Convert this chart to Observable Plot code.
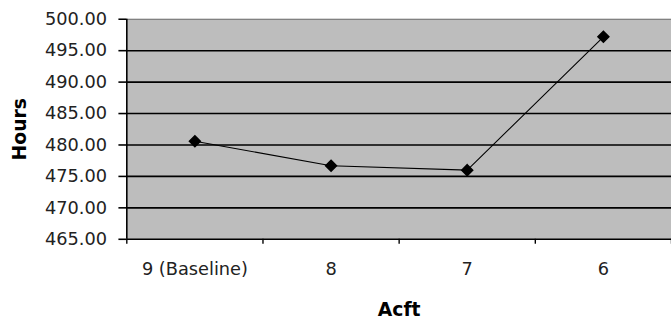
<!DOCTYPE html>
<html>
<head>
<meta charset="utf-8">
<script src="https://cdn.jsdelivr.net/npm/d3@7"></script>
<script src="https://cdn.jsdelivr.net/npm/@observablehq/plot@0.6"></script>
<style>
  html, body { margin: 0; padding: 0; background: #fff; overflow: hidden; }
  #chart { width: 671px; height: 325px; overflow: hidden; }
</style>
</head>
<body>
<div id="chart"></div>
<script>
const categories = ["9 (Baseline)", "8", "7", "6"];
const hours = [480.6, 476.7, 476.0, 497.2];
const yTicks = [465, 470, 475, 480, 485, 490, 495, 500];

const data = categories.map((c, i) => ({cat: c, pos: i + 0.5, hours: hours[i]}));
const catTicks = categories.map((c, i) => i + 0.5);
const boundaryTicks = d3.range(categories.length + 1);

const chart = Plot.plot({
  width: 680,
  height: 325,
  marginLeft: 128,
  marginRight: 0,
  marginTop: 19,
  marginBottom: 83,
  style: {fontFamily: "DejaVu Sans, Verdana, sans-serif", fontSize: "18px", color: "#222", background: "transparent", overflow: "visible"},
  x: {domain: [0, categories.length], type: "linear"},
  y: {domain: [465, 500]},
  marks: [
    Plot.frame({fill: "#bdbdbd", stroke: null}),
    Plot.ruleY(yTicks.filter(t => t > 465 && t < 500), {stroke: "#000", strokeWidth: 1.6}),
    Plot.ruleY([500], {stroke: "#666", strokeWidth: 1}),
    Plot.ruleY([465], {stroke: "#000", strokeWidth: 1.6}),
    Plot.ruleX([0], {stroke: "#000", strokeWidth: 1.6}),
    Plot.axisY({ticks: yTicks, tickFormat: d3.format(".2f"), tickSize: 8, tickPadding: 12, stroke: "#000", strokeWidth: 1.6,
      label: "Hours", labelAnchor: "center", labelArrow: "none", labelOffset: 116, fontSize: 18}),
    Plot.axisX({ticks: boundaryTicks, tickFormat: () => "", tickSize: 5, stroke: "#000", strokeWidth: 1.4, label: null}),
    Plot.axisX({ticks: catTicks, tickFormat: (d) => categories[Math.floor(d)], tickSize: 0, tickPadding: 23, fontSize: 18,
      label: "Acft", labelAnchor: "center", labelArrow: "none", labelOffset: 78}),
    Plot.line(data, {x: "pos", y: "hours", stroke: "#000", strokeWidth: 1.1}),
    Plot.dot(data, {x: "pos", y: "hours", symbol: "diamond2", r: 5, fill: "#000", stroke: "#000"})
  ]
});

// axis titles bold, larger
chart.querySelectorAll("[aria-label='x-axis label'] text, [aria-label='y-axis label'] text").forEach(t => {
  t.style.fontWeight = "bold";
  t.style.fontSize = "19px";
  t.style.fill = "#000";
});
document.getElementById("chart").appendChild(chart);
</script>
</body>
</html>
